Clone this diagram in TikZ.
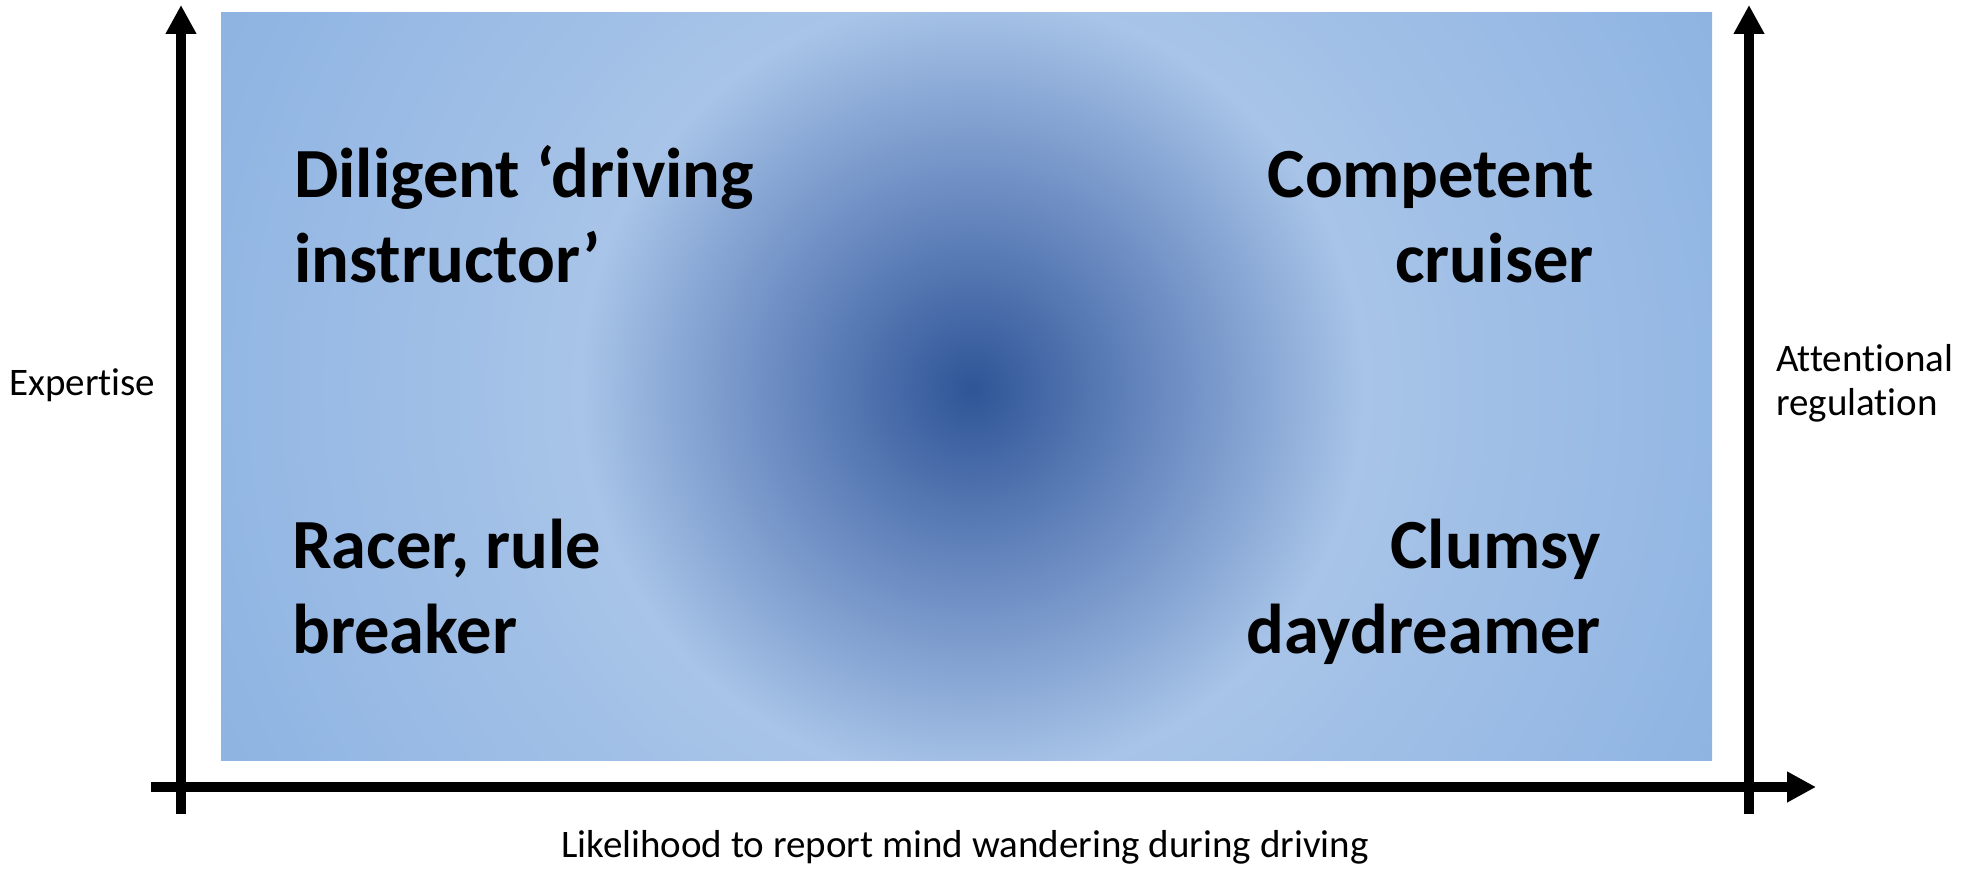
\documentclass[tikz,border=0pt]{standalone}
\usepackage{fontspec}
\setmainfont{Carlito}[Ligatures=NoCommon]
\usetikzlibrary{arrows.meta}
\definecolor{cCenter}{HTML}{2F5597}
\definecolor{cMid}{HTML}{6D8DC3}
\definecolor{cRing}{HTML}{A8C4E8}
\definecolor{cOut}{HTML}{8DB3E2}
\pgfdeclareradialshading{spot}{\pgfpoint{0bp}{0bp}}{color(0bp)=(cCenter); color(200bp)=(cMid); color(390bp)=(cRing); color(850bp)=(cOut)}
\begin{document}
\begin{tikzpicture}[x=1pt,y=-1pt,
  axis/.style={line width=10pt, -{Triangle[length=29pt,width=29pt]}},
  big/.style={font=\fontsize{70.5}{85}\selectfont\bfseries, inner sep=0pt},
  small/.style={font=\fontsize{39}{44}\selectfont, inner sep=0pt}]
\useasboundingbox (0,0) rectangle (1981,869);
\begin{scope}
  \clip (221,13) rectangle (1712,760);
  \node[inner sep=0pt, outer sep=0pt] (glow) at (972,389) {\pgfuseshading{spot}};
\end{scope}
\coordinate (xs) at (151,787);
\coordinate (xe) at (1816,787);
\coordinate (ls) at (181,814);
\coordinate (le) at (181,5);
\coordinate (rs) at (1749,814);
\coordinate (re) at (1749,5);
\draw[axis] (ls) -- (le);
\draw[axis] (rs) -- (re);
\draw[axis] (xs) -- (xe);
\node[big, align=left, anchor=base west] (dil) at (294,282) {Diligent ‘driving\\instructor’};
\node[big, align=right, anchor=base east] (comp) at (1594,282) {Competent\\cruiser};
\node[big, align=left, anchor=base west] (race) at (292,653) {Racer, rule\\breaker};
\node[big, align=right, anchor=base east] (clum) at (1601,653) {Clumsy\\daydreamer};
\node[small, anchor=base west] (exp) at (9,395) {Expertise};
\node[small, align=left, anchor=base west] (att) at (1776,415) {Attentional\\regulation};
\node[small, anchor=base] (lik) at (965,857) {Likelihood to report mind wandering during driving};
\end{tikzpicture}
\end{document}
